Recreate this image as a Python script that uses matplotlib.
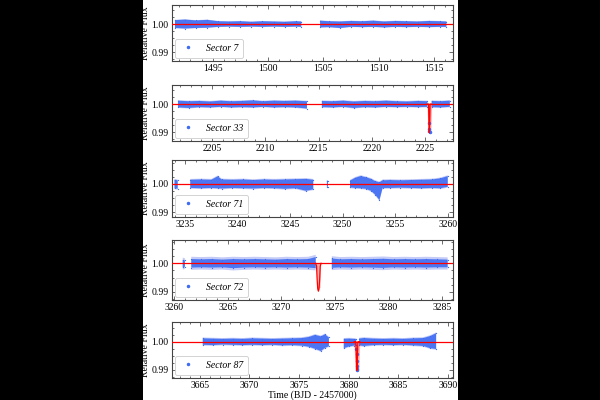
import numpy as np
import matplotlib
matplotlib.use("Agg")
import matplotlib.pyplot as plt
from matplotlib.patches import Rectangle
from matplotlib.ticker import AutoMinorLocator, MultipleLocator, FormatStrFormatter

plt.rcParams['font.family'] = 'serif'
plt.rcParams['font.serif'] = ['Liberation Serif', 'DejaVu Serif']

nan = np.nan

# ---- data (envelope of the point cloud per ~1 day) ----
sectors = ['Sector 7', 'Sector 33', 'Sector 71', 'Sector 72', 'Sector 87']

t7 = [1491.6, 1492.5, 1493.5, 1494.5, 1495.5, 1496.5, 1497.5, 1498.5, 1499.5, 1500.5, 1501.5, 1502.5, 1503.0,
      nan, 1504.7, 1505.5, 1506.5, 1507.5, 1508.5, 1509.5, 1510.5, 1511.5, 1512.5, 1513.5, 1514.5, 1515.5, 1516.1]
hi7 = [1.0014, 1.0016, 1.0013, 1.0015, 1.0010, 1.0009, 1.0010, 1.0008, 1.0010, 1.0009, 1.0008, 1.0010, 1.0009,
       nan, 1.0012, 1.0010, 1.0009, 1.0011, 1.0010, 1.0012, 1.0009, 1.0011, 1.0010, 1.0009, 1.0011, 1.0010, 1.0009]
lo7 = [0.9986, 0.9984, 0.9986, 0.9987, 0.9990, 0.9991, 0.9990, 0.9991, 0.9990, 0.9991, 0.9990, 0.9991, 0.9990,
       nan, 0.9988, 0.9989, 0.9986, 0.9990, 0.9989, 0.9990, 0.9988, 0.9990, 0.9989, 0.9990, 0.9989, 0.9990, 0.9990]

t33 = [2201.8, 2202.8, 2203.8, 2204.8, 2205.8, 2206.8, 2207.8, 2208.8, 2209.8, 2210.8, 2211.8, 2212.8, 2213.9,
       nan, 2215.3, 2216.3, 2217.3, 2218.3, 2219.3, 2220.3, 2221.3, 2222.3, 2223.3, 2224.3, 2225.2,
       nan, 2225.6, 2226.4, 2227.3]
hi33 = [1.0012, 1.0010, 1.0011, 1.0009, 1.0012, 1.0010, 1.0011, 1.0013, 1.0010, 1.0012, 1.0011, 1.0012, 1.0010,
        nan, 1.0011, 1.0010, 1.0012, 1.0009, 1.0011, 1.0010, 1.0012, 1.0010, 1.0009, 1.0011, 1.0010,
        nan, 1.0011, 1.0010, 1.0012]
lo33 = [0.9988, 0.9986, 0.9989, 0.9988, 0.9990, 0.9988, 0.9989, 0.9988, 0.9990, 0.9988, 0.9989, 0.9988, 0.9984,
        nan, 0.9989, 0.9988, 0.9990, 0.9986, 0.9989, 0.9988, 0.9990, 0.9989, 0.9990, 0.9989, 0.9990,
        nan, 0.9989, 0.9988, 0.9990]

t71 = [3234.0, 3234.3, nan, 3235.5, 3236.5, 3237.5, 3238.1, 3238.5, 3239.5, 3240.5, 3241.5, 3242.5, 3243.5,
       3244.5, 3245.5, 3246.5, 3247.2, nan, 3248.5, 3248.6, nan, 3250.7, 3251.2, 3251.7, 3252.2, 3252.7,
       3253.1, 3253.5, 3253.8, 3254.5, 3255.5, 3256.5, 3257.5, 3258.5, 3259.3, 3260.0]
hi71 = [1.0015, 1.0013, nan, 1.0015, 1.0016, 1.0015, 1.0027, 1.0016, 1.0015, 1.0016, 1.0014, 1.0016, 1.0015,
        1.0016, 1.0017, 1.0018, 1.0015, nan, 1.0012, 1.0010, nan, 1.0012, 1.0022, 1.0028, 1.0024, 1.0018,
        1.0010, 1.0006, 1.0013, 1.0014, 1.0013, 1.0014, 1.0015, 1.0016, 1.0020, 1.0028]
lo71 = [0.9985, 0.9983, nan, 0.9986, 0.9985, 0.9986, 0.9985, 0.9984, 0.9986, 0.9985, 0.9984, 0.9986, 0.9985,
        0.9983, 0.9985, 0.9976, 0.9981, nan, 0.9990, 0.9991, nan, 0.9988, 0.9986, 0.9985, 0.9983, 0.9976,
        0.9962, 0.9943, 0.9986, 0.9986, 0.9987, 0.9986, 0.9985, 0.9986, 0.9985, 0.9990]

t72 = [3260.8, 3261.0, nan, 3261.6, 3262.5, 3263.5, 3264.5, 3265.5, 3266.5, 3267.5, 3268.5, 3269.5, 3270.5,
       3271.5, 3272.5, 3273.2, nan, 3274.7, 3275.5, 3276.5, 3277.5, 3278.5, 3279.5, 3280.5, 3281.5, 3282.5,
       3283.5, 3284.5, 3285.5]
hi72 = [1.0012, 1.0010, nan, 1.0015, 1.0014, 1.0015, 1.0013, 1.0015, 1.0014, 1.0015, 1.0014, 1.0013, 1.0015,
        1.0014, 1.0015, 1.0022, nan, 1.0017, 1.0014, 1.0015, 1.0014, 1.0015, 1.0016, 1.0014, 1.0015, 1.0014,
        1.0015, 1.0014, 1.0013]
lo72 = [0.9986, 0.9988, nan, 0.9985, 0.9986, 0.9985, 0.9986, 0.9983, 0.9985, 0.9986, 0.9985, 0.9986, 0.9985,
        0.9986, 0.9985, 0.9983, nan, 0.9984, 0.9986, 0.9985, 0.9986, 0.9985, 0.9984, 0.9986, 0.9985, 0.9986,
        0.9985, 0.9986, 0.9986]

t87 = [3665.3, 3666.3, 3667.3, 3668.3, 3669.3, 3670.3, 3671.3, 3672.3, 3673.3, 3674.3, 3675.3, 3676.0, 3676.6,
       3677.2, 3677.6, 3678.0, nan, 3679.5, 3680.0, 3680.5, 3680.75, nan, 3681.05, 3681.5, 3682.5, 3683.5,
       3684.5, 3685.5, 3686.5, 3687.5, 3688.2, 3688.8]
hi87 = [1.0012, 1.0011, 1.0010, 1.0011, 1.0010, 1.0012, 1.0011, 1.0010, 1.0011, 1.0012, 1.0013, 1.0017, 1.0024,
        1.0019, 1.0026, 1.0015, nan, 1.0010, 1.0011, 1.0010, 1.0009, nan, 1.0011, 1.0013, 1.0011, 1.0010,
        1.0011, 1.0010, 1.0012, 1.0013, 1.0020, 1.0030]
lo87 = [0.9989, 0.9988, 0.9990, 0.9989, 0.9988, 0.9989, 0.9988, 0.9989, 0.9987, 0.9988, 0.9986, 0.9982, 0.9975,
        0.9967, 0.9978, 0.9984, nan, 0.9977, 0.9983, 0.9986, 0.9987, nan, 0.9987, 0.9985, 0.9988, 0.9989,
        0.9988, 0.9989, 0.9987, 0.9985, 0.9977, 0.9974]

# typical flux error per sector (lighter halo)
err = [0.0001, 0.0002, 0.0003, 0.0008, 0.0003]

# in-transit points
tp33 = [2225.32, 2225.35, 2225.38, 2225.41]
fp33 = [0.9933, 0.9911, 0.9905, 0.9899]
tp87 = [3680.78, 3680.80, 3680.82, 3680.84, 3680.86, 3680.88]
fp87 = [0.9975, 0.9958, 0.9930, 0.9912, 0.9903, 0.9899]

# transit model + its shaded uncertainty
tm33 = [2225.20, 2225.31, 2225.34, 2225.38, 2225.42, 2225.45, 2225.56]
fm33 = [1.0, 1.0, 0.9935, 0.9897, 0.9935, 1.0, 1.0]
ts33 = [2225.16, 2225.24, 2225.52, 2225.60]
sl33 = [1.0, 0.9905, 0.9905, 1.0]

tm72 = [3273.20, 3273.28, 3273.33, 3273.39, 3273.45, 3273.51, 3273.57, 3273.62, 3273.70]
fm72 = [1.0, 0.9990, 0.9945, 0.9910, 0.9902, 0.9910, 0.9945, 0.9990, 1.0]
ts72 = [3273.25, 3273.30, 3273.60, 3273.65]
sl72 = [1.0, 0.9915, 0.9915, 1.0]

tm87 = [3680.55, 3680.72, 3680.77, 3680.82, 3680.87, 3680.92, 3681.10]
fm87 = [1.0, 1.0, 0.9940, 0.9898, 0.9940, 1.0, 1.0]
ts87 = [3680.53, 3680.62, 3681.02, 3681.11]
sl87 = [1.0, 0.9905, 0.9905, 1.0]

xlims = [(1491.33, 1516.7), (2201.24, 2227.6), (3233.76, 3260.5), (3259.8, 3286.0), (3662.2, 3690.5)]
ylims = [(0.9868, 1.0068), (0.9868, 1.0068), (0.9883, 1.0085), (0.9871, 1.0082), (0.9871, 1.0070)]

band_t = [t7, t33, t71, t72, t87]
band_hi = [hi7, hi33, hi71, hi72, hi87]
band_lo = [lo7, lo33, lo71, lo72, lo87]
pts = [None, (tp33, fp33), None, None, (tp87, fp87)]
models = [None, (tm33, fm33, ts33, sl33), None, (tm72, fm72, ts72, sl72), (tm87, fm87, ts87, sl87)]

blue = '#3e6cf2'
halo = '#c3cbf6'

# ---- figure ----
W, H = 600, 400
fig = plt.figure(figsize=(6, 4), dpi=100)
fig.patch.set_facecolor('black')
fig.add_artist(Rectangle((143 / W, 0), (458 - 143) / W, 1, transform=fig.transFigure,
                         facecolor='white', edgecolor='none', zorder=-5))

# axes boxes in pixels (top, bottom)
boxes = [(5, 61), (85, 141), (160, 217), (240, 300), (322, 378)]
x0, x1 = 172, 453

for i, (top, bot) in enumerate(boxes):
    ax = fig.add_axes([x0 / W, 1 - bot / H, (x1 - x0) / W, (bot - top) / H])
    t = np.array(band_t[i], dtype=float)
    hi = np.array(band_hi[i], dtype=float)
    lo = np.array(band_lo[i], dtype=float)
    e = err[i]
    ax.fill_between(t, lo - e, hi + e, color=halo, lw=0, zorder=1)
    ax.fill_between(t, lo, hi, color=blue, alpha=0.9, lw=0, zorder=2)
    ax.plot(t, hi, '.', color=blue, ms=1.8, mew=0, zorder=2)
    ax.plot(t, lo, '.', color=blue, ms=1.8, mew=0, zorder=2)
    if pts[i] is not None:
        ax.errorbar(pts[i][0], pts[i][1], yerr=e, fmt='.', color=blue, ecolor=halo, ms=3, lw=0.8, zorder=3)

    ax.axhline(1.0, color='red', lw=0.9, zorder=4)
    if models[i] is not None:
        tm, fm, ts, sl = models[i]
        ax.fill_between(ts, sl, 1.0, color='red', alpha=0.3, lw=0, zorder=3)
        ax.plot(tm, fm, color='red', lw=0.9, zorder=4)

    ax.plot([], [], '.', color=blue, ms=3, label=sectors[i])
    leg = ax.legend(loc='lower left', prop={'size': 7, 'style': 'italic'}, borderaxespad=0.35,
                    handletextpad=1.0, handlelength=1.6, borderpad=0.5, framealpha=1)
    leg.get_frame().set_edgecolor('#cccccc')
    leg.get_frame().set_linewidth(0.6)

    ax.set_xlim(*xlims[i])
    ax.set_ylim(*ylims[i])
    ax.xaxis.set_major_locator(MultipleLocator(5))
    ax.xaxis.set_minor_locator(AutoMinorLocator(5))
    ax.set_yticks([0.99, 1.00])
    ax.yaxis.set_major_formatter(FormatStrFormatter('%.2f'))
    ax.yaxis.set_minor_locator(MultipleLocator(0.0025))
    ax.tick_params(which='both', direction='in', top=True, right=True, labelsize=7, pad=2.5,
                   width=0.6, color='#555555')
    ax.tick_params(which='major', length=3)
    ax.tick_params(which='minor', length=1.5)
    for s in ax.spines.values():
        s.set_linewidth(0.8)
        s.set_color('#444444')
    ax.set_ylabel('Relative Flux', fontsize=7, labelpad=1)
    if i == len(boxes) - 1:
        ax.set_xlabel('Time (BJD - 2457000)', fontsize=7, labelpad=0)

fig.savefig('out.png', dpi=100, facecolor=fig.get_facecolor())
